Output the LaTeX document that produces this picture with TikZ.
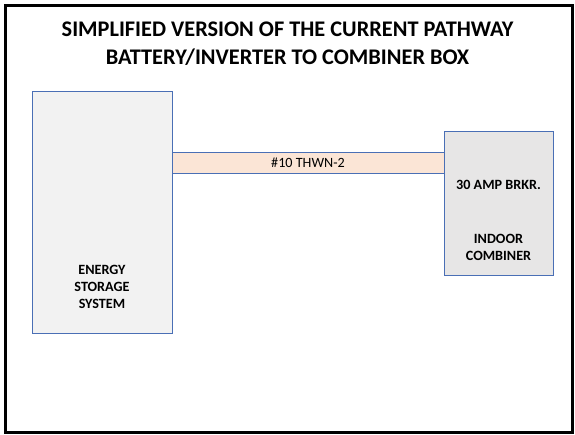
\documentclass[tikz,border=0pt]{standalone}
\usepackage{fontspec}
\setmainfont{Carlito}
\definecolor{boxblue}{HTML}{4A6FB5}
\definecolor{essfill}{HTML}{F2F2F2}
\definecolor{cbfill}{HTML}{E7E6E6}
\definecolor{wirefill}{HTML}{FBE5D6}
\begin{document}
\begin{tikzpicture}[x=1bp,y=-1bp,
  unit/.style={draw=boxblue,line width=0.9bp,inner sep=0pt,anchor=north west},
  lbl/.style={font=\bfseries\fontsize{14.2}{17}\selectfont,align=center,text=black},
  ttl/.style={font=\bfseries\fontsize{22.4}{28}\selectfont,align=center}]
\useasboundingbox (0,0) rectangle (575,435);
\node[draw=black,line width=3bp,minimum width=567bp,minimum height=427bp,inner sep=0pt,anchor=north west] (frame) at (4,4) {};
\node[ttl] (title) at (287.5,44) {SIMPLIFIED VERSION OF THE CURRENT PATHWAY\\BATTERY/INVERTER TO COMBINER BOX};
\node[unit,fill=essfill,minimum width=140bp,minimum height=242bp] (ess) at (32,91) {};
\node[unit,fill=wirefill,minimum width=273bp,minimum height=21bp] (wire) at (172,152) {};
\node[unit,fill=cbfill,minimum width=109bp,minimum height=144bp] (cb) at (444,131) {};
\node[lbl] (esstxt) at (102,287) {ENERGY\\STORAGE\\SYSTEM};
\node[font=\fontsize{14.2}{16}\selectfont] (wiretxt) at (308,162.5) {\#10 THWN-2};
\node[lbl] (brk) at (498.5,185) {30 AMP BRKR.};
\node[lbl] (ind) at (498.5,247) {INDOOR\\COMBINER};
\end{tikzpicture}
\end{document}
